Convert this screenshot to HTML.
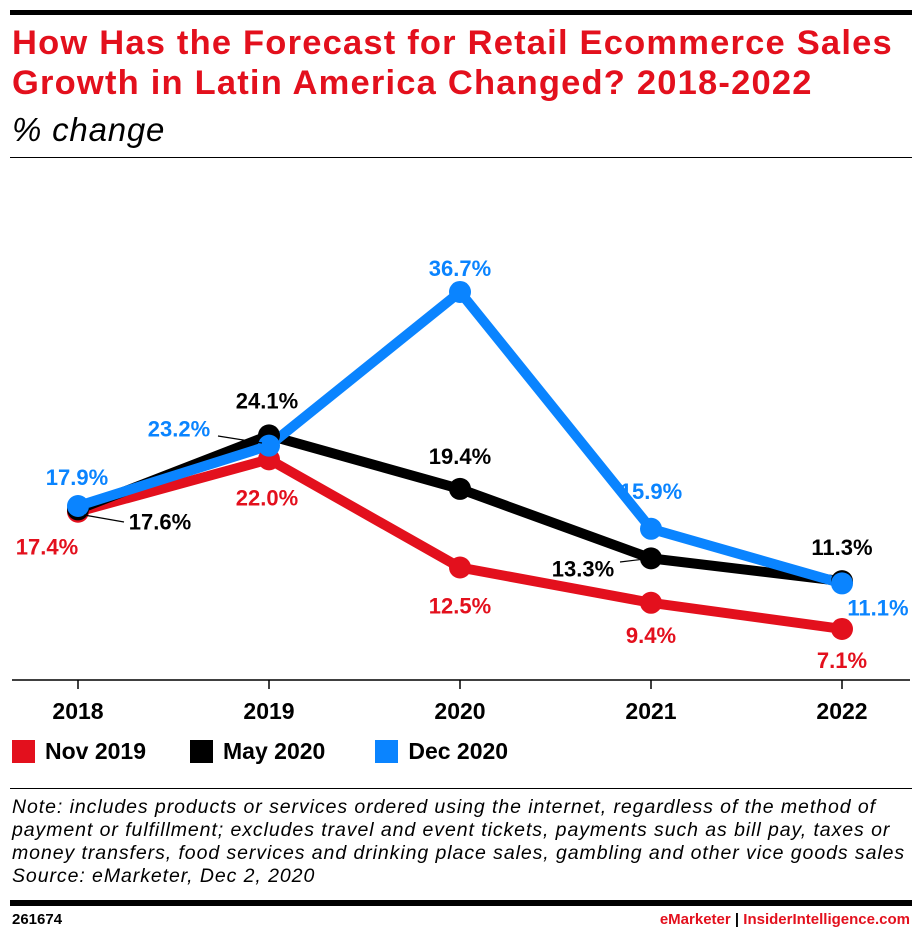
<!DOCTYPE html>
<html><head><meta charset="utf-8"><style>
body{margin:0;width:922px;height:944px;background:#fff;font-family:"Liberation Sans",sans-serif;position:relative;overflow:hidden}
.abs{position:absolute}
</style></head><body>
<div class="abs" style="left:10px;top:10px;width:902px;height:5px;background:#000"></div>
<div class="abs" style="left:12px;top:23px;width:910px;font-size:34.5px;font-weight:bold;color:#e3101d;line-height:40px;letter-spacing:1.2px;white-space:nowrap">How Has the Forecast for Retail Ecommerce Sales<br>Growth in Latin America Changed? 2018-2022</div>
<div class="abs" style="left:12px;top:111px;font-size:33px;font-style:italic;color:#000;letter-spacing:0.8px">% change</div>
<div class="abs" style="left:10px;top:157px;width:902px;height:1px;background:#000"></div>
<svg class="abs" style="left:0;top:0" width="922" height="944" id="chart"></svg>
<div class="abs" style="left:12px;top:738px;font-size:23px;font-weight:bold;display:flex;gap:0;align-items:center">
<span style="display:flex;align-items:center;margin-right:44px"><i style="width:23px;height:23px;background:#e3101d;display:inline-block;margin-right:10px"></i>Nov 2019</span>
<span style="display:flex;align-items:center;margin-right:50px"><i style="width:23px;height:23px;background:#000;display:inline-block;margin-right:10px"></i>May 2020</span>
<span style="display:flex;align-items:center"><i style="width:23px;height:23px;background:#0a84ff;display:inline-block;margin-right:10px"></i>Dec 2020</span>
</div>
<div class="abs" style="left:10px;top:788px;width:902px;height:1px;background:#000"></div>
<div class="abs" style="left:12px;top:796px;width:910px;font-size:19.5px;font-style:italic;line-height:23px;color:#000;white-space:nowrap;letter-spacing:0.93px">Note: includes products or services ordered using the internet, regardless of the method of<br>payment or fulfillment; excludes travel and event tickets, payments such as bill pay, taxes or<br>money transfers, food services and drinking place sales, gambling and other vice goods sales<br>Source: eMarketer, Dec 2, 2020</div>
<div class="abs" style="left:10px;top:900px;width:902px;height:6px;background:#000"></div>
<div class="abs" style="left:12px;top:911px;font-size:15px;font-weight:bold">261674</div>
<div class="abs" style="right:12px;top:911px;font-size:15px;font-weight:bold"><span style="color:#e3101d">eMarketer</span> | <span style="color:#e3101d">InsiderIntelligence.com</span></div>
<script>
const years=["2018","2019","2020","2021","2022"];
const nov2019=[17.4,22.0,12.5,9.4,7.1];
const may2020=[17.6,24.1,19.4,13.3,11.3];
const dec2020=[17.9,23.2,36.7,15.9,11.1];
const NS="http://www.w3.org/2000/svg";
const svg=document.getElementById('chart');
const x=i=>78+i*191;
const y=v=>709.8-v*11.385;
function el(t,a){const e=document.createElementNS(NS,t);for(const k in a)e.setAttribute(k,a[k]);svg.appendChild(e);return e;}
const ax=el('line',{x1:12,x2:910,y1:680,y2:680,stroke:'#000','stroke-width':1.5});


years.forEach((yr,i)=>{
 const t=el('line',{x1:x(i),x2:x(i),y1:680,y2:689,stroke:'#000','stroke-width':1.5});
 
 
 const l=el('text',{x:x(i),y:719,'text-anchor':'middle','font-size':23,'font-weight':'bold','font-family':'Liberation Sans'});
 l.textContent=yr;
 
 
});
const series=[
 {d:nov2019,c:'#e3101d',n:'nov-2019',off:[[-31,35],[-2,38],[0,38],[0,32],[0,31]]},
 {d:may2020,c:'#000',n:'may-2020',off:[[82,12],[-2,-35],[0,-33],[-68,10],[0,-34]]},
 {d:dec2020,c:'#0a84ff',n:'dec-2020',off:[[-1,-29],[-90,-17],[0,-24],[0,-38],[36,24]]}
];
const leaders=[[1,0,[84,515,124,522]],[2,1,[218,436,262,443]],[1,3,[620,562,645,559]]];
series.forEach(s=>{
 const p=el('polyline',{points:s.d.map((v,i)=>x(i)+','+y(v)).join(' '),fill:'none',stroke:s.c,'stroke-width':10,'stroke-linejoin':'round'});
 
 
});
series.forEach(s=>{
 s.d.forEach((v,i)=>{
  const c=el('circle',{cx:x(i),cy:y(v),r:11,fill:s.c});
  
  
 });
});
leaders.forEach(l=>{
 const ln=el('line',{x1:l[2][0],y1:l[2][1],x2:l[2][2],y2:l[2][3],stroke:'#000','stroke-width':1.2});
 
 
});
series.forEach(s=>{
 s.d.forEach((v,i)=>{
  const t=el('text',{x:x(i)+s.off[i][0],y:y(v)+s.off[i][1]+8,'text-anchor':'middle','font-size':22,'font-weight':'bold',fill:s.c,'font-family':'Liberation Sans'});
  t.textContent=v.toFixed(1)+'%';
  
  
 });
});
</script>
</body></html>
